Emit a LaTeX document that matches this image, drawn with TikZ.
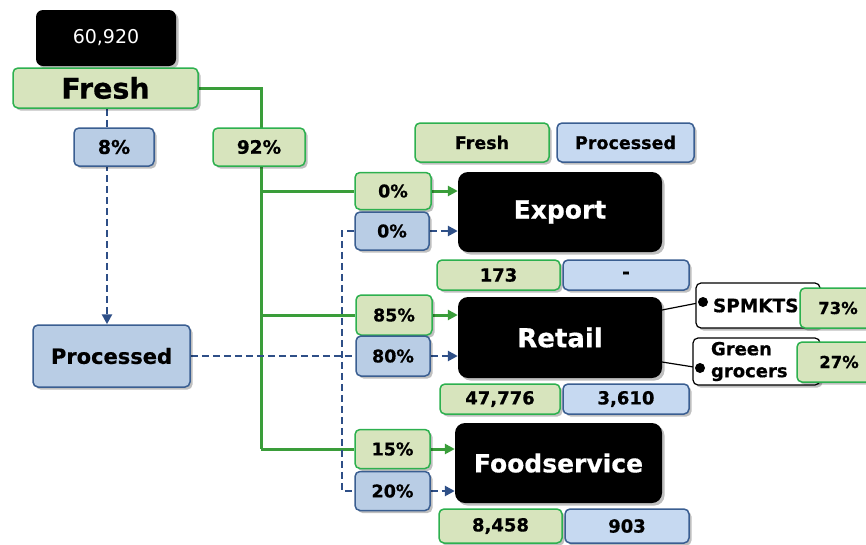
\documentclass[tikz,border=0pt]{standalone}
\usepackage{fontspec}
\setmainfont{DejaVu Sans}[BoldFeatures={FakeBold=0.6}]
\usetikzlibrary{arrows.meta,shadows}
\definecolor{gfill}{HTML}{D7E4BD}
\definecolor{gdraw}{HTML}{2DB04F}
\definecolor{gline}{HTML}{3A9D3A}
\definecolor{bfill}{HTML}{B9CDE5}
\definecolor{bfillL}{HTML}{C6D9F1}
\definecolor{bdraw}{HTML}{3A5E91}
\definecolor{bline}{HTML}{2E4F87}
\pgfdeclarelayer{bg}
\pgfsetlayers{bg,main}
\tikzset{
  shad/.style={drop shadow={shadow xshift=2.5pt,shadow yshift=-2.5pt,opacity=0.25,fill=black}},
  box/.style={rounded corners=5pt, inner sep=0pt, line width=1.5pt, shad},
  gbox/.style={box, fill=gfill, draw=gdraw},
  bbox/.style={box, fill=bfill, draw=bdraw},
  lbbox/.style={box, fill=bfillL, draw=bdraw},
  blk/.style={rounded corners=10pt, fill=black, text=white, inner sep=0pt, shad},
  wbox/.style={rounded corners=5pt, draw=black, fill=white, line width=1.2pt, shad},
  pct/.style={font=\fontsize{17.5}{20}\selectfont\bfseries},
  num/.style={font=\fontsize{18}{21}\selectfont\bfseries},
  big/.style={font=\fontsize{25}{29}\selectfont\bfseries},
  sz/.style 2 args={minimum width=#1pt, minimum height=#2pt},
  gcon/.style={draw=gline, line width=3pt},
  bcon/.style={draw=bline, line width=2.6pt, dash pattern=on 7pt off 4pt},
  garr/.style={gcon, -{Triangle[length=10pt,width=10pt]}},
  barr/.style={bcon, -{Triangle[length=10pt,width=10pt]}},
  dot/.style={circle, fill=black, inner sep=0pt, minimum size=10pt}
}
\begin{document}
\begin{tikzpicture}[x=1pt,y=-1pt]
\useasboundingbox (0,0) rectangle (866,544);
% top
\node[blk, sz={140}{56}, rounded corners=7pt, font=\fontsize{19}{22}\selectfont] (total) at (106,38) {60,920};
\node[gbox, sz={185}{40}, font=\fontsize{28.5}{32}\selectfont\bfseries] (fresh) at (105.5,88) {Fresh};
\node[bbox, sz={80}{38}, font=\fontsize{19}{22}\selectfont\bfseries] (p8) at (114,147) {8\%};
\node[gbox, sz={92}{38}, font=\fontsize{18.5}{21}\selectfont\bfseries] (p92) at (259,147) {92\%};
\node[bbox, sz={157}{62}, font=\fontsize{21}{25}\selectfont\bfseries] (proc) at (111.5,356) {Processed};
% legend
\node[gbox, sz={134}{39}, font=\fontsize{17.5}{20}\selectfont\bfseries] (legF) at (482,142.5) {Fresh};
\node[lbbox, sz={137}{39}, font=\fontsize{17.5}{20}\selectfont\bfseries] (legP) at (625.5,142.5) {Processed};
% export
\node[blk, sz={204}{80}, big] (export) at (560,212) {Export};
\node[gbox, sz={76}{37}, pct] (e0g) at (393,191) {0\%};
\node[bbox, sz={74}{38}, pct] (e0b) at (392,231) {0\%};
\node[gbox, sz={123}{30}, num] (v173) at (498.5,275) {173};
\node[lbbox, sz={126}{30}, num] (vdash) at (626,275) {-};
% retail
\node[blk, sz={204}{81}, big, font=\fontsize{26}{30}\selectfont\bfseries] (retail) at (560,337.5) {Retail};
\node[gbox, sz={76}{40}, pct] (r85) at (394,315) {85\%};
\node[bbox, sz={74}{40}, pct] (r80) at (393,356) {80\%};
\node[gbox, sz={120}{30}, num] (v47776) at (500,399) {47,776};
\node[lbbox, sz={126}{30}, num] (v3610) at (626,399) {3,610};
% foodservice
\node[blk, sz={207}{80}, big] (food) at (558.5,463) {Foodservice};
\node[gbox, sz={75}{39}, pct] (f15) at (392.5,449) {15\%};
\node[bbox, sz={75}{39}, pct] (f20) at (392.5,491) {20\%};
\node[gbox, sz={123}{34}, num] (v8458) at (500.5,526) {8,458};
\node[lbbox, sz={124}{34}, num] (v903) at (627,526) {903};
% retail breakdown
\node[wbox, sz={124}{45}, inner xsep=17pt, text width=90pt, align=left, font=\fontsize{18.5}{21}\selectfont\bfseries] (spm) at (758,305.5) {SPMKTS};
\node[gbox, sz={76}{40}, font=\fontsize{16.5}{19}\selectfont\bfseries] (p73) at (838,308) {73\%};
\node[wbox, sz={127}{47}, inner xsep=18pt, inner ysep=0pt, text width=91pt, align=left, font=\fontsize{18}{22}\selectfont\bfseries] (grn) at (756.5,361.5) {Green\\grocers};
\node[gbox, sz={84}{40}, font=\fontsize{16.5}{19}\selectfont\bfseries] (p27) at (839,362) {27\%};
\node[dot] (d1) at (703,302) {};
\node[dot] (d2) at (700,368) {};
\coordinate (rA) at (662,310);
\coordinate (rB) at (662,362);
\coordinate (gv) at (261,0);
\coordinate (bv) at (342,0);
\coordinate (fv) at (107,0);
\begin{pgfonlayer}{bg}
  % green (fresh) connectors
  \draw[gcon] (fresh.east) -| (gv |- f15.west);
  \draw[gcon] (gv |- e0g.west) -- (e0g.west);
  \draw[gcon] (gv |- r85.west) -- (r85.west);
  \draw[gcon] (gv |- f15.west) -- (f15.west);
  \draw[garr] (e0g.east) -- (e0g.east -| export.west);
  \draw[garr] (r85.east) -- (r85.east -| retail.west);
  \draw[garr] (f15.east) -- (f15.east -| food.west);
  % blue (processed) connectors
  \draw[barr] (fv |- fresh.south) -- (fv |- proc.north);
  \draw[bcon] (proc.east) -- (r80.west);
  \draw[bcon] (e0b.west) -| (bv |- f20.west) -- (f20.west);
  \draw[barr] (e0b.east) -- (e0b.east -| export.west);
  \draw[barr] (r80.east) -- (r80.east -| retail.west);
  \draw[barr] (f20.east) -- (f20.east -| food.west);
  % retail breakdown
  \draw[line width=1.2pt] (rA) -- (d1.center);
  \draw[line width=1.2pt] (rB) -- (d2.center);
\end{pgfonlayer}
\end{tikzpicture}
\end{document}
